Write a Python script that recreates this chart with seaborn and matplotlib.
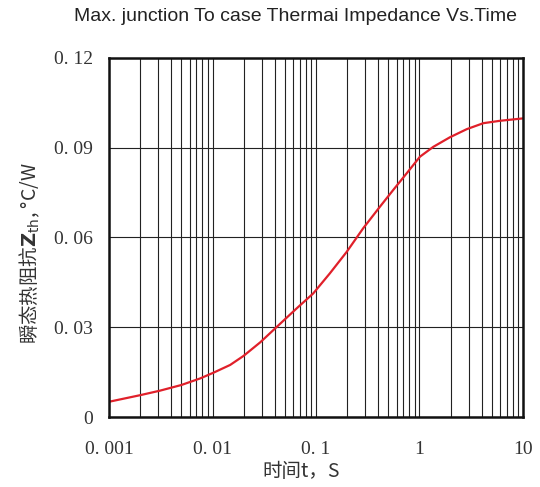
import numpy as np
import pandas as pd
import matplotlib
matplotlib.use("Agg")
import matplotlib.pyplot as plt
import seaborn as sns

# values
time_s = [0.001, 0.002, 0.0031, 0.005, 0.0076, 0.0102, 0.0148, 0.0199, 0.029, 0.042,
          0.065, 0.094, 0.136, 0.198, 0.286, 0.415, 0.558, 0.75, 1.01, 1.36,
          1.97, 2.86, 4.14, 6.0, 10.0]
zth = [0.0051, 0.0073, 0.0088, 0.0107, 0.0129, 0.0148, 0.0174, 0.0204, 0.0250, 0.0302,
       0.0363, 0.0413, 0.0480, 0.0552, 0.0631, 0.0703, 0.0759, 0.0814, 0.0870, 0.0903,
       0.0935, 0.0962, 0.0982, 0.0990, 0.0998]

x_ticks = [0.001, 0.01, 0.1, 1, 10]
x_labels = ["0. 001", "0. 01", "0. 1", "1", "10"]
y_ticks = [0, 0.03, 0.06, 0.09, 0.12]
y_labels = ["0", "0. 03", "0. 06", "0. 09", "0. 12"]

df = pd.DataFrame({"t": time_s, "zth": zth})

sns.set_style("white")
plt.rcParams['font.family'] = ['Noto Sans CJK SC', 'DejaVu Sans']

fig = plt.figure(figsize=(5.4, 4.87), dpi=100)
ax = fig.add_axes([0.2019, 0.1437, 0.7666, 0.7373])

sns.lineplot(data=df, x="t", y="zth", ax=ax, color="#e0202a", linewidth=1.6)

ax.set_xscale("log")
ax.set_xlim(0.001, 10)
ax.set_ylim(0, 0.12)

ax.set_xticks(x_ticks)
ax.set_xticklabels(x_labels, family="Liberation Serif", fontsize=14, color="#333333")
ax.set_yticks(y_ticks)
ax.set_yticklabels(y_labels, family="Liberation Serif", fontsize=14, color="#333333")
ax.tick_params(axis="x", which="both", length=0, pad=17)
ax.tick_params(axis="y", which="both", length=0, pad=11.5)

ax.xaxis.set_minor_locator(matplotlib.ticker.LogLocator(base=10, subs=np.arange(2, 10)))
ax.xaxis.set_minor_formatter(matplotlib.ticker.NullFormatter())
ax.grid(True, axis="x", which="both", color="#222222", linewidth=0.8)
ax.grid(True, axis="y", which="major", color="#222222", linewidth=0.8)

for s in ax.spines.values():
    s.set_visible(True)
    s.set_color("#111111")
    s.set_linewidth(1.8)

ax.set_xlabel("时间t，S", fontsize=14, color="#333333")
ax.xaxis.set_label_coords(0.464, -0.122)
ax.set_ylabel(r"瞬态热阻抗$\mathbf{Z}_{\mathrm{th}}$, °C/W", fontsize=14, color="#333333")
ax.yaxis.set_label_coords(-0.162, 0.457)

fig.text(0.548, 0.966, "Max. junction To case Thermai Impedance Vs.Time",
         ha="center", va="center", fontsize=14, family="Liberation Sans", color="#222222")

fig.savefig("out.png", dpi=100)
